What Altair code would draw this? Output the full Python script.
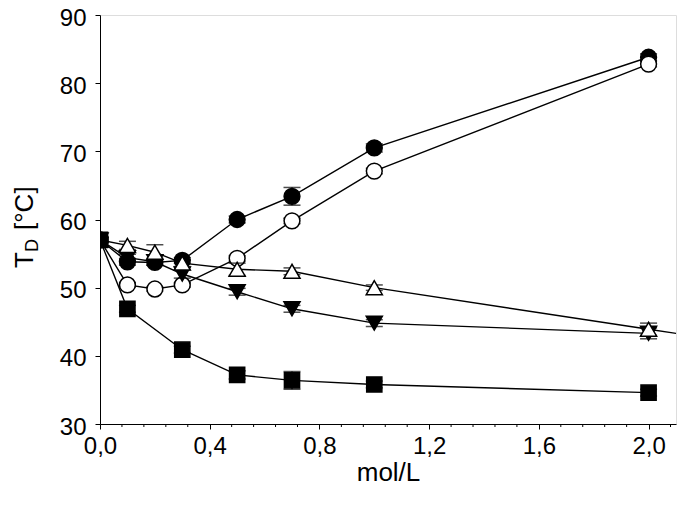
import altair as alt
import pandas as pd

# ---- data ----
x_vals = [0.0, 0.1, 0.2, 0.3, 0.5, 0.7, 1.0, 2.0]

filled_circle = [57.0, 53.8, 53.7, 54.0, 60.0, 63.4, 70.5, 83.8]
filled_circle_err = [0.4, 0.5, 0.4, 0.4, 0.5, 1.3, 0.6, 0.5]

open_circle = [57.0, 50.4, 49.8, 50.4, 54.3, 59.8, 67.1, 82.8]
open_circle_err = [0.4, 0.3, 0.3, 0.3, 0.4, 0.4, 0.4, 0.4]

filled_tri = [57.0, 54.4, 53.8, 52.0, 49.4, 46.9, 44.8, 43.3]
filled_tri_err = [0.3, 0.5, 0.5, 0.6, 0.5, 0.5, 0.5, 0.8]

open_tri_x = [0.0, 0.1, 0.2, 0.3, 0.5, 0.7, 1.0, 2.0, 3.0]
open_tri = [57.0, 56.2, 55.2, 53.6, 52.7, 52.4, 50.0, 43.9, 37.9]
open_tri_err = [0.3, 0.6, 1.1, 0.5, 0.9, 0.5, 0.4, 0.9, 0.0]

square_x = [0.0, 0.1, 0.3, 0.5, 0.7, 1.0, 2.0]
square = [57.0, 46.9, 40.9, 37.2, 36.4, 35.8, 34.6]
square_err = [0.5, 0.5, 0.5, 0.6, 1.3, 0.5, 0.5]

x_major = [0.0, 0.4, 0.8, 1.2, 1.6, 2.0]
x_minor = [0.08, 0.16, 0.24, 0.32, 0.48, 0.56, 0.64, 0.72, 0.88, 0.96, 1.04, 1.12,
           1.28, 1.36, 1.44, 1.52, 1.68, 1.76, 1.84, 1.92, 2.08]
y_ticks = [30, 40, 50, 60, 70, 80, 90]

series = [
    # name, xs, ys, errs, shape, fill, size
    ("fc", x_vals, filled_circle, filled_circle_err, "circle", "black", 250),
    ("oc", x_vals, open_circle, open_circle_err, "circle", "white", 250),
    ("ft", x_vals, filled_tri, filled_tri_err, "triangle-down", "black", 260),
    ("ot", open_tri_x, open_tri, open_tri_err, "triangle-up", "white", 260),
    ("sq", square_x, square, square_err, "square", "black", 230),
]

rows = []
for name, xs, ys, es, *_ in series:
    for xv, yv, ev in zip(xs, ys, es):
        rows.append({"series": name, "x": xv, "y": yv, "lo": yv - ev, "hi": yv + ev, "err": ev})
df = pd.DataFrame(rows)

FONT = "Liberation Sans"
LABEL_SIZE = 24
TITLE_SIZE = 26

xscale = alt.Scale(domain=[0, 2.1], nice=False, zero=False)
yscale = alt.Scale(domain=[30, 90], nice=False, zero=False)

xaxis = alt.Axis(
    values=x_major,
    labelExpr="replace(format(datum.value, '.1f'), '.', ',')",
    tickSize=5,
    labelPadding=5,
    labelFontSize=LABEL_SIZE,
    labelFont=FONT,
    labelColor="black",
    labelOverlap=False,
    labelFlush=False,
    title="mol/L",
    titleFont=FONT,
    titleFontSize=TITLE_SIZE,
    titleFontWeight="normal",
    titleColor="black",
    titlePadding=1,
    grid=False,
    domainColor="black",
    tickColor="black",
)

yaxis = alt.Axis(
    values=y_ticks,
    format="d",
    tickSize=5,
    labelPadding=9,
    labelOffset=3,
    labelFontSize=LABEL_SIZE,
    labelFont=FONT,
    labelColor="black",
    title=None,
    grid=False,
    domainColor="black",
    tickColor="black",
)

base = alt.Chart(df)

lines = base.mark_line(color="black", strokeWidth=1.4, clip=True).encode(
    x=alt.X("x:Q", scale=xscale, axis=xaxis),
    y=alt.Y("y:Q", scale=yscale, axis=yaxis),
    detail="series:N",
    order="x:Q",
)

# minor ticks of the x axis
minor = alt.Chart(pd.DataFrame({"m": x_minor})).mark_rule(color="black", strokeWidth=1).encode(
    x="m:Q", y=alt.value(409), y2=alt.value(412)
)

layers = [lines, minor]

for name, xs, ys, es, shape, fill, size in series:
    sub = base.transform_filter(alt.datum.series == name)
    err = sub.transform_filter(alt.datum.err > 0)
    layers.append(
        err.mark_rule(color="black", strokeWidth=1.3, clip=True).encode(
            x="x:Q", y="lo:Q", y2="hi:Q"
        )
    )
    layers.append(
        err.mark_tick(color="black", orient="horizontal", size=17, thickness=1.5, clip=True).encode(
            x="x:Q", y="lo:Q"
        )
    )
    layers.append(
        err.mark_tick(color="black", orient="horizontal", size=17, thickness=1.5, clip=True).encode(
            x="x:Q", y="hi:Q"
        )
    )
    layers.append(
        sub.mark_point(
            shape=shape, fill=fill, stroke="black", strokeWidth=1.5,
            filled=False, opacity=1, fillOpacity=1, size=size, clip=True
        ).encode(x="x:Q", y="y:Q")
    )

# y-axis title  T_D [°C]
title_df = pd.DataFrame({"t": ["T"], "d": ["D"], "c": ["[°C]"]})
tb = alt.Chart(title_df)
t_main = tb.mark_text(font=FONT, fontSize=TITLE_SIZE, angle=270, align="left", baseline="alphabetic", color="black").encode(
    x=alt.value(-67), y=alt.value(253), text="t:N")
t_sub = tb.mark_text(font=FONT, fontSize=18, angle=270, align="left", baseline="alphabetic", color="black").encode(
    x=alt.value(-62), y=alt.value(237), text="d:N")
t_unit = tb.mark_text(font=FONT, fontSize=TITLE_SIZE, angle=270, align="left", baseline="alphabetic", color="black").encode(
    x=alt.value(-67), y=alt.value(215), text="c:N")

chart = alt.layer(*layers, t_main, t_sub, t_unit).properties(
    width=576,
    height=409,
    autosize=alt.AutoSizeParams(type="none"),
    padding={"left": 92, "top": 7, "right": 1, "bottom": 84},
).configure_view(
    stroke="black", strokeWidth=1
).configure(background="white")

chart.save("out.html", embed_options={"renderer": "svg", "actions": False})
